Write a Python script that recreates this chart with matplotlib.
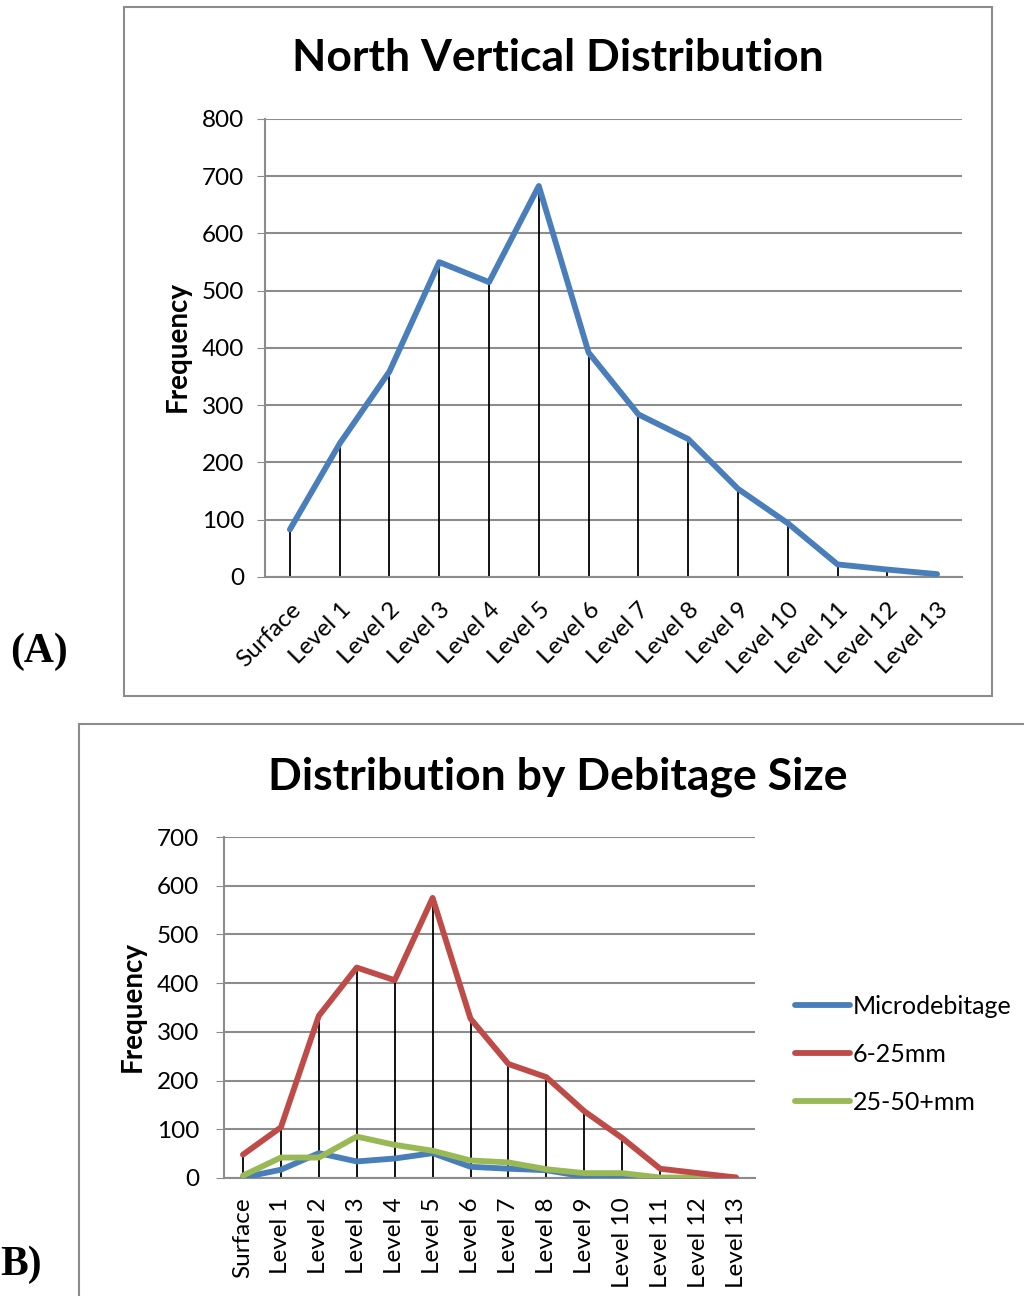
import matplotlib
matplotlib.use("Agg")
import matplotlib.pyplot as plt
from matplotlib.patches import Rectangle
import numpy as np

plt.rcParams['font.family'] = ['Lato', 'DejaVu Sans']

categories = ["Surface", "Level 1", "Level 2", "Level 3", "Level 4", "Level 5", "Level 6",
              "Level 7", "Level 8", "Level 9", "Level 10", "Level 11", "Level 12", "Level 13"]

north_total = [83, 233, 359, 550, 515, 683, 392, 284, 241, 154, 94, 22, 13, 5]

microdebitage = [1, 17, 51, 34, 40, 51, 23, 19, 16, 3, 2, 0, 0, 0]
mm_6_25 = [48, 104, 333, 432, 406, 575, 327, 234, 207, 137, 82, 19, 10, 1]
mm_25_50 = [5, 42, 42, 85, 68, 56, 36, 32, 18, 10, 10, 1, 1, 1]

yticks_a = [0, 100, 200, 300, 400, 500, 600, 700, 800]
yticks_b = [0, 100, 200, 300, 400, 500, 600, 700]

W, H = 1024, 1296
fig = plt.figure(figsize=(W / 100, H / 100), dpi=100)


def px_axes(x0, y0, x1, y1):
    return fig.add_axes([x0 / W, 1 - y1 / H, (x1 - x0) / W, (y1 - y0) / H])


def box(x0, y0, x1, y1):
    fig.patches.append(Rectangle((x0 / W, 1 - y1 / H), (x1 - x0) / W, (y1 - y0) / H,
                                 transform=fig.transFigure, fill=False,
                                 edgecolor='#8c8c8c', linewidth=1.5, zorder=0))


grid_c = '#8c8c8c'
blue = '#4a7ebb'
red = '#be4b48'
green = '#98b954'
LW = 4.2
TICK_FS = 17.5

# ---------- Chart A ----------
box(124, 7, 992, 696)
axA = px_axes(265, 119, 962, 577)
x = np.arange(len(categories))
axA.set_xlim(-0.5, len(categories) - 0.5)
axA.set_ylim(0, 800)
axA.set_yticks(yticks_a)
axA.yaxis.grid(True, color=grid_c, linewidth=1.5)
axA.set_axisbelow(True)
axA.vlines(x, 0, north_total, color='black', linewidth=1.3, zorder=2)
axA.plot(x, north_total, color=blue, linewidth=LW, solid_capstyle='round', zorder=3)
for s in ['top', 'right']:
    axA.spines[s].set_visible(False)
axA.spines['left'].set_color(grid_c)
axA.spines['bottom'].set_color(grid_c)
axA.spines['left'].set_linewidth(1.5)
axA.spines['bottom'].set_linewidth(1.5)
axA.tick_params(axis='y', length=6, color=grid_c, labelsize=TICK_FS, pad=9)
axA.set_xticks(x)
axA.set_xticklabels(categories, rotation=45, ha='right', va='top', rotation_mode='anchor', fontsize=TICK_FS)
axA.tick_params(axis='x', length=0, pad=16)
fig.text(178 / W, 1 - 347 / H, "Frequency", rotation=90, ha='center', va='center',
         fontsize=20, fontweight='bold')
fig.text(558 / W, 1 - 58 / H, "North Vertical Distribution", ha='center', va='center',
         fontsize=32, fontweight='bold')
fig.text(10 / W, 1 - 652 / H, "(A)", ha='left', va='center', fontsize=30, fontweight='bold',
         family=['Liberation Serif', 'DejaVu Serif'])

# ---------- Chart B ----------
box(79, 724, 1040, 1310)
axB = px_axes(224, 837, 755, 1178)
axB.set_xlim(-0.5, len(categories) - 0.5)
axB.set_ylim(0, 700)
axB.set_yticks(yticks_b)
axB.yaxis.grid(True, color=grid_c, linewidth=1.5)
axB.set_axisbelow(True)
tops = np.max(np.vstack([microdebitage, mm_6_25, mm_25_50]), axis=0)
axB.vlines(x, 0, tops, color='black', linewidth=1.3, zorder=2)
axB.plot(x, microdebitage, color=blue, linewidth=LW, solid_capstyle='round', zorder=3, label='Microdebitage')
axB.plot(x, mm_6_25, color=red, linewidth=LW, solid_capstyle='round', zorder=4, label='6-25mm')
axB.plot(x, mm_25_50, color=green, linewidth=LW, solid_capstyle='round', zorder=3, label='25-50+mm')
for s in ['top', 'right']:
    axB.spines[s].set_visible(False)
axB.spines['left'].set_color(grid_c)
axB.spines['bottom'].set_color(grid_c)
axB.spines['left'].set_linewidth(1.5)
axB.spines['bottom'].set_linewidth(1.5)
axB.tick_params(axis='y', length=6, color=grid_c, labelsize=TICK_FS, pad=12)
axB.set_xticks(x)
axB.set_xticklabels(categories, rotation=90, ha='center', va='top', fontsize=TICK_FS)
axB.tick_params(axis='x', length=0, pad=14)
fig.text(133 / W, 1 - 1007 / H, "Frequency", rotation=90, ha='center', va='center',
         fontsize=20, fontweight='bold')
fig.text(558 / W, 1 - 777 / H, "Distribution by Debitage Size", ha='center', va='center',
         fontsize=32, fontweight='bold')
fig.text(0 / W, 1 - 1265 / H, "B)", ha='left', va='center', fontsize=30, fontweight='bold',
         family=['Liberation Serif', 'DejaVu Serif'])
fig.legend(loc='center left', bbox_to_anchor=(795 / W, 1 - 1054 / H), frameon=False,
           fontsize=18, handlelength=2.2, handletextpad=0.12, labelspacing=1.0,
           borderaxespad=0, borderpad=0)

fig.savefig("out.png", dpi=100)
